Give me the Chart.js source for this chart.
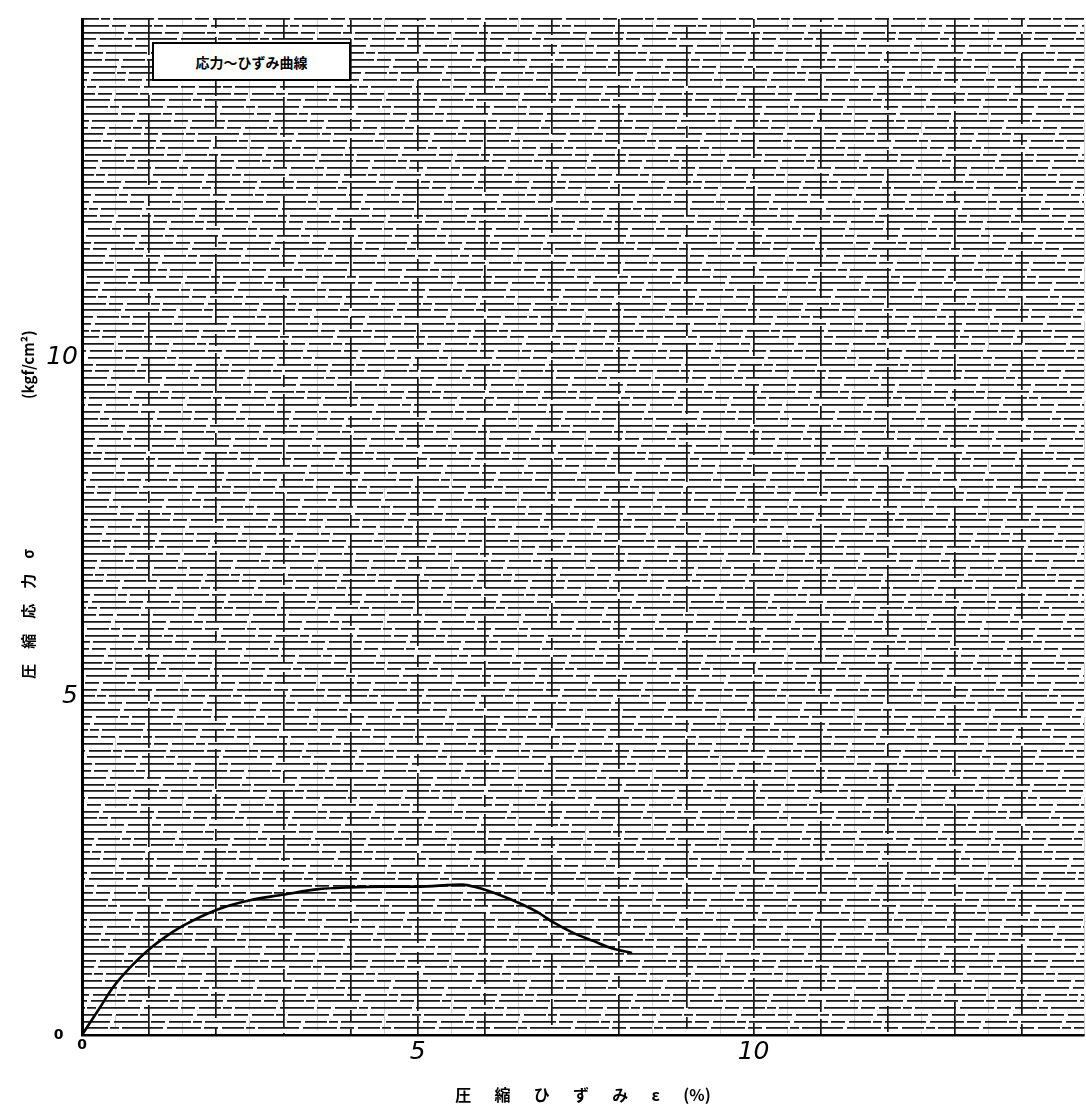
<!DOCTYPE html>
<html>
<head>
<meta charset="utf-8">
<script src="https://cdn.jsdelivr.net/npm/chart.js@4.4.1/dist/chart.umd.min.js"></script>
<style>
  html, body { margin: 0; padding: 0; background: #ffffff; }
  #wrap { position: relative; width: 1086px; height: 1105px; }
  #legendBox {
    position: absolute; left: 152px; top: 42px; width: 199px; height: 39px;
    background: #ffffff; border: 2px solid #000; box-sizing: border-box;
    font-family: "Noto Sans CJK JP", sans-serif; font-weight: bold; font-size: 14px;
    display: flex; align-items: center; justify-content: center; color: #000;
  }
</style>
</head>
<body>
<div id="wrap">
  <canvas id="c" width="1086" height="1105"></canvas>
  <div id="legendBox">応力～ひずみ曲線</div>
</div>
<script>
// ---- data ----
const strain = [0, 0.27, 0.46, 0.71, 0.97, 1.20, 1.50, 2.01, 2.50, 2.99, 3.49, 3.98, 4.47, 4.98, 5.66, 5.87, 6.21, 6.55, 6.77, 7.04, 7.33, 7.61, 7.89, 8.19];
const stress = [0, 0.41, 0.70, 0.99, 1.24, 1.42, 1.61, 1.85, 1.99, 2.07, 2.15, 2.18, 2.19, 2.19, 2.22, 2.18, 2.07, 1.93, 1.82, 1.65, 1.50, 1.39, 1.28, 1.21];
const xTickLabels = [0, 5, 10];
const yTickLabels = [0, 5, 10];
const xRange = [0, 14.92];
const yRange = [0, 15];
const xAxisTitle = "圧　  縮　  ひ　  ず　  み　  ε　  (%)";
const yAxisTitle = "　　　圧　縮　応　力　σ　　　　　　　　　　(kgf/cm²)";

const points = strain.map((x, i) => ({ x: x, y: stress[i] }));
const near = (v, list) => list.find(t => Math.abs(v - t) < 1e-6);
const isInt = (v) => Math.abs(v - Math.round(v)) < 1e-6;

const handFont = (ctx) => {
  const v = ctx.tick ? ctx.tick.value : 1;
  return Math.abs(v) < 1e-6
    ? { family: "DejaVu Sans", size: 14, weight: 'bold' }
    : { family: "DejaVu Sans", size: 25, style: 'italic' };
};

new Chart(document.getElementById('c'), {
  type: 'line',
  data: {
    datasets: [{
      data: points,
      borderColor: '#000',
      borderWidth: 2.6,
      pointRadius: 0,
      cubicInterpolationMode: 'monotone',
      fill: false
    }]
  },
  options: {
    responsive: false,
    animation: false,
    devicePixelRatio: 1,
    layout: { padding: { top: 7, left: 0, right: 0, bottom: 0 } },
    plugins: { legend: { display: false }, tooltip: { enabled: false } },
    scales: {
      x: {
        type: 'linear',
        min: xRange[0], max: xRange[1],
        afterFit: (s) => { s.height = 70; },
        ticks: {
          stepSize: 0.5, autoSkip: false, maxRotation: 0, padding: 2,
          color: '#000', font: handFont,
          callback: (v) => { const t = near(v, xTickLabels); return t === undefined ? '' : String(t); }
        },
        grid: {
          drawTicks: false,
          lineWidth: (ctx) => (isInt(ctx.tick.value) ? 1.7 : 0.8),
          color: (ctx) => (isInt(ctx.tick.value) ? '#161616' : '#c4c4c4')
        },
        border: {
          display: true, color: '#000', width: 2.5,
          dash: [26, 9, 12, 7, 40, 5],
          dashOffset: (ctx) => (ctx.index * 29) % 99
        },
        title: { display: true, text: xAxisTitle, color: '#000', padding: { top: 0, bottom: 0 },
                 font: { family: "Noto Sans CJK JP", size: 16, weight: 'bold' } }
      },
      y: {
        type: 'linear',
        min: yRange[0], max: yRange[1],
        afterFit: (s) => { s.width = 82; },
        ticks: {
          stepSize: 0.1, autoSkip: false, padding: 4,
          color: '#000', font: handFont,
          callback: (v) => { const t = near(v, yTickLabels); return t === undefined ? '' : (t === 0 ? '0   ' : String(t)); }
        },
        grid: {
          drawTicks: false,
          lineWidth: 1.7,
          color: '#1a1a1a'
        },
        border: {
          display: true, color: '#000', width: 3,
          dash: [34, 3, 14, 4, 22, 2, 9, 3, 41, 4],
          dashOffset: (ctx) => (ctx.index * 53) % 136
        },
        title: { display: true, text: yAxisTitle, color: '#000', padding: { top: 19, bottom: 0 },
                 font: { family: "Noto Sans CJK JP", size: 15, weight: 'bold' } }
      }
    }
  }
});
</script>
</body>
</html>
